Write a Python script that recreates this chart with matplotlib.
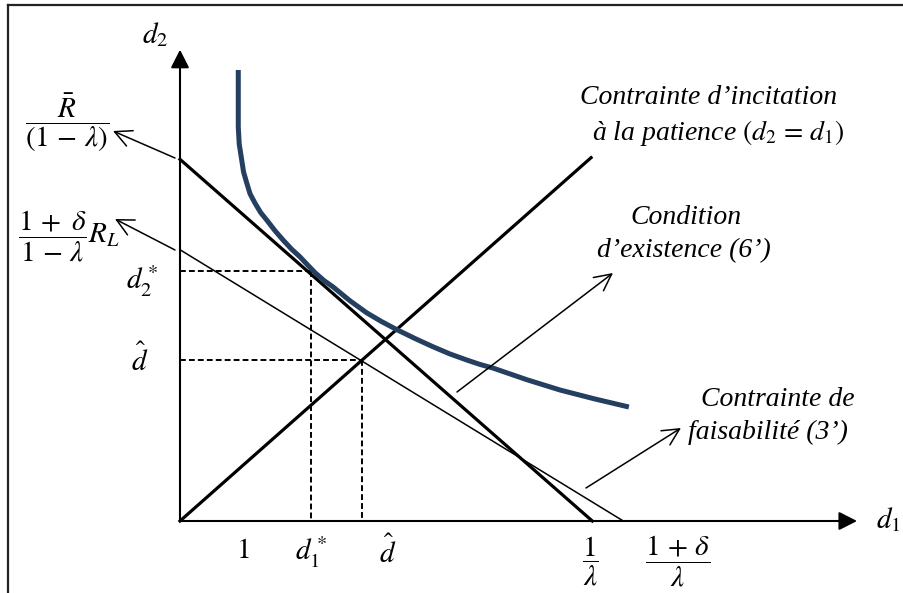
import matplotlib
matplotlib.use('Agg')
import matplotlib.pyplot as plt

plt.rcParams['mathtext.fontset'] = 'stix'

# valeurs du schema (unites du diagramme)
d1_star, d2_star = 2.11, 4.56
d_hat = 2.94
inv_lam = 6.65            # 1/lambda
R_int = 6.6               # Rbar/(1-lambda)
feas_x, feas_y = 7.15, 4.95   # (1+delta)/lambda , (1+delta)/(1-lambda) R_L
diag_end = 6.63
x_end, y_end = 10.92, 8.6

# courbe (condition d'existence)
curve_x = [0.94, 0.94, 0.94, 0.955, 0.995, 1.025, 1.076, 1.13, 1.21, 1.30,
           1.40, 1.53, 1.66, 1.80, 1.935, 2.06, 2.18, 2.32, 2.47, 2.74,
           3.01, 3.25, 3.50, 3.79, 4.08, 4.35, 4.62, 4.83, 5.05, 5.59,
           6.13, 6.68, 7.24]
curve_y = [8.23, 7.70, 7.19, 6.88, 6.59, 6.37, 6.17, 5.97, 5.80, 5.63,
           5.49, 5.30, 5.13, 4.96, 4.82, 4.67, 4.53, 4.39, 4.27, 4.02,
           3.80, 3.64, 3.49, 3.33, 3.18, 3.05, 2.94, 2.86, 2.79, 2.58,
           2.39, 2.23, 2.08]

W, H = 904, 593
x0_px, y0_px = 180, 521
sx, sy = 62.0, 54.8

fig = plt.figure(figsize=(W / 100, H / 100), dpi=100)
ax = fig.add_axes([0, 0, 1, 1])
ax.set_xlim(-x0_px / sx, (W - x0_px) / sx)
ax.set_ylim(-(H - y0_px) / sy, y0_px / sy)
ax.axis('off')

# axes avec fleches
axis_style = '-|>,head_length=0.55,head_width=0.28'
ax.annotate('', xy=(x_end, 0), xytext=(0, 0),
            arrowprops=dict(arrowstyle=axis_style, lw=1.5, color='k',
                            shrinkA=0, shrinkB=0, mutation_scale=20))
ax.annotate('', xy=(0, y_end), xytext=(0, 0),
            arrowprops=dict(arrowstyle=axis_style, lw=1.5, color='k',
                            shrinkA=0, shrinkB=0, mutation_scale=20))

# droites
ax.plot([0, inv_lam], [R_int, 0], color='k', lw=2.3)
ax.plot([0, feas_x], [feas_y, 0], color='k', lw=1.1)
ax.plot([0, diag_end], [0, diag_end], color='k', lw=2.3)

# pointilles
dash = (0, (3, 1.6))
ax.plot([0, d1_star], [d2_star, d2_star], color='k', lw=1.4, ls=dash)
ax.plot([d1_star, d1_star], [d2_star, 0], color='k', lw=1.4, ls=dash)
ax.plot([0, d_hat], [d_hat, d_hat], color='k', lw=1.4, ls=dash)
ax.plot([d_hat, d_hat], [d_hat, 0], color='k', lw=1.4, ls=dash)

# courbe bleue
ax.plot(curve_x, curve_y, color='#243f60', lw=3.6, solid_capstyle='butt',
        solid_joinstyle='round', zorder=5)

# calque en pixels pour textes et cadre
ov = fig.add_axes([0, 0, 1, 1])
ov.set_xlim(0, W)
ov.set_ylim(H, 0)
ov.axis('off')
ov.patch.set_alpha(0)

ov.plot([8, W], [5, 5], color='#222222', lw=1.6)
ov.plot([8, 8], [5, H], color='#222222', lw=1.6)

ms = 21
ov.text(155, 35, r'$d_2$', fontsize=ms, ha='center', va='center')
ov.text(888, 520, r'$d_1$', fontsize=ms, ha='center', va='center')
ov.text(67, 123, r'$\dfrac{\bar{R}}{(1\,-\,\lambda)}$', fontsize=ms,
        ha='center', va='center')
ov.text(69, 236, r'$\dfrac{1\,+\ \delta}{1\,-\,\lambda}R_L$', fontsize=ms,
        ha='center', va='center')
ov.text(142, 281, r'$d_2^*$', fontsize=ms, ha='center', va='center')
ov.text(140, 360, r'$\hat{d}$', fontsize=ms, ha='center', va='center')
ov.text(243, 550, r'$1$', fontsize=ms, ha='center', va='center')
ov.text(311, 552, r'$d_1^*$', fontsize=ms, ha='center', va='center')
ov.text(388, 552, r'$\hat{d}$', fontsize=ms, ha='center', va='center')
ov.text(590, 561, r'$\dfrac{1}{\lambda}$', fontsize=ms, ha='center', va='center')
ov.text(678, 561, r'$\dfrac{1\,+\,\delta}{\lambda}$', fontsize=ms,
        ha='center', va='center')

tf = dict(family='Liberation Serif', style='italic', fontsize=20, va='center')
ov.text(837, 98, 'Contrainte d\u2019incitation', ha='right', **tf)
ov.text(845, 133, '\u00e0 la patience $(d_2\\,=\\,d_1)$', ha='right', **tf)
ov.text(630, 218, 'Condition', ha='left', **tf)
ov.text(597, 251, 'd\u2019existence (6\u2019)', ha='left', **tf)
ov.text(855, 400, 'Contrainte de', ha='right', **tf)
ov.text(688, 432, 'faisabilit\u00e9 (3\u2019)', ha='left', **tf)

# fleches d'annotation
arr = dict(arrowstyle='->,head_length=0.6,head_width=0.3', lw=1.1, color='k',
           shrinkA=0, shrinkB=0, mutation_scale=20)
ov.annotate('', xy=(113, 131), xytext=(175, 158), arrowprops=arr)
ov.annotate('', xy=(115, 219), xytext=(175, 250), arrowprops=arr)
ov.annotate('', xy=(613, 273), xytext=(457, 392), arrowprops=arr)
ov.annotate('', xy=(681, 428), xytext=(586, 488), arrowprops=arr)

fig.savefig('out.png', dpi=100)
